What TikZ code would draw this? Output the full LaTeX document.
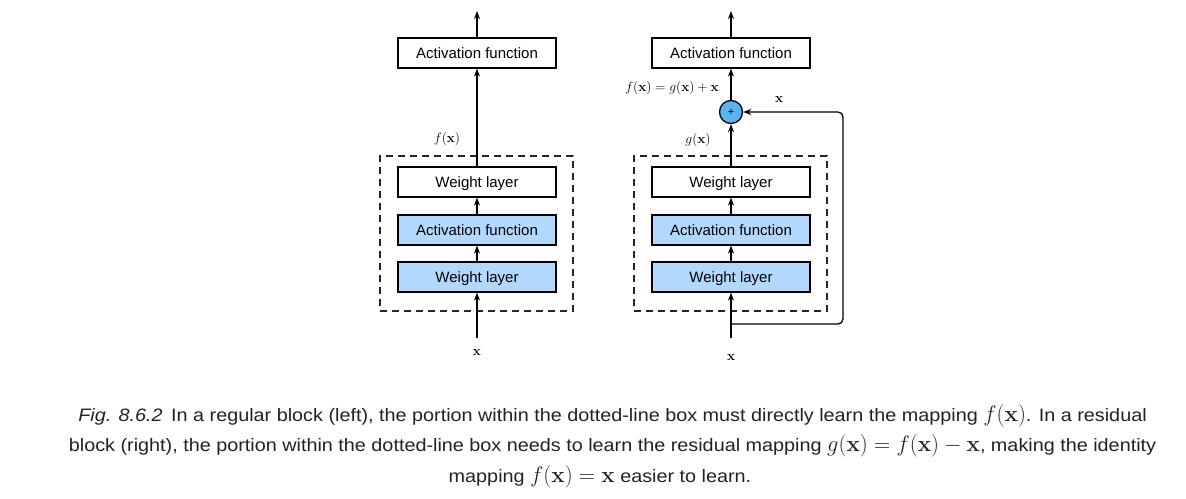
\RequirePackage{fix-cm}
\documentclass[tikz,border=0pt]{standalone}
\usepackage[no-math]{fontspec}
\setmainfont{Liberation Sans}
\newfontfamily\capfont[FakeStretch=1.10]{Liberation Sans}
\newcommand{\cm}[1]{{\fontsize{22.5}{24}\selectfont$#1$}}
\usetikzlibrary{arrows.meta}
\definecolor{boxblue}{RGB}{179,216,255}
\definecolor{plusblue}{RGB}{90,180,245}
\definecolor{captxt}{RGB}{34,34,34}
\begin{document}
\begin{tikzpicture}[x=1pt,y=-1pt,
  blk/.style={draw, line width=1.2pt, minimum width=158pt, minimum height=30pt, inner sep=0pt, text height=10.7pt, text depth=0pt, font=\fontsize{15}{18}\selectfont},
  bluebox/.style={blk, fill=boxblue},
  arr/.style={line width=1.3pt, -{Stealth[length=8pt,width=6pt]}},
  dbox/.style={draw=black!85, line width=1.3pt, dash pattern=on 7pt off 5pt, minimum width=193pt, minimum height=155pt, inner sep=0pt},
  lbl/.style={inner sep=0pt, font=\fontsize{13.5}{15}\selectfont},
  captext/.style={inner sep=0pt, anchor=base, text=captxt, font=\capfont\fontsize{18}{21}\selectfont}
]
\useasboundingbox (0,0) rectangle (1186,498);
% left block
\node[dbox] (ldash) at (476.5,233.5) {};
\node[blk] (la) at (477,53) {Activation function};
\node[blk] (lw2) at (477,182) {Weight layer};
\node[bluebox] (lf) at (477,230) {Activation function};
\node[bluebox] (lw1) at (477,277) {Weight layer};
\coordinate (lin) at (477,338);
\coordinate (lout) at (477,11);
\node[lbl] (lx) at (477,352) {$\mathbf{x}$};
\node[lbl] (lfx) at (447,139) {$f(\mathbf{x})$};
\draw[arr] (lin) -- (lw1.south);
\draw[arr] (lw1.north) -- (lf.south);
\draw[arr] (lf.north) -- (lw2.south);
\draw[arr] (lw2.north) -- (la.south);
\draw[arr] (la.north) -- (lout);
% right block
\node[dbox] (rdash) at (730.5,233.5) {};
\node[blk] (ra) at (731,53) {Activation function};
\node[circle, draw, fill=plusblue, minimum size=23pt, inner sep=0pt, line width=1.3pt, font=\fontsize{11}{12}\selectfont] (plus) at (731,112) {+};
\node[blk] (rw2) at (731,182) {Weight layer};
\node[bluebox] (rf) at (731,230) {Activation function};
\node[bluebox] (rw1) at (731,277) {Weight layer};
\coordinate (rin) at (731,338);
\coordinate (rsplit) at (731,324);
\coordinate (rcorner) at (843,112);
\coordinate (rout) at (731,11);
\node[lbl] (rx) at (731,357) {$\mathbf{x}$};
\node[lbl] (rgx) at (698,140) {$g(\mathbf{x})$};
\node[lbl] (rfx) at (672,88) {$f(\mathbf{x}) = g(\mathbf{x}) + \mathbf{x}$};
\node[lbl] (rsx) at (779,99) {$\mathbf{x}$};
\draw[arr] (rin) -- (rw1.south);
\draw[arr] (rw1.north) -- (rf.south);
\draw[arr] (rf.north) -- (rw2.south);
\draw[arr] (rw2.north) -- (plus.south);
\draw[arr] (plus.north) -- (ra.south);
\draw[arr] (ra.north) -- (rout);
\draw[arr, rounded corners=5pt] (rsplit) -| (rcorner) -- (plus.east);
% caption
\node[captext] (c1) at (612.5,421) {\textit{Fig. 8.6.2}\, In a regular block (left), the portion within the dotted-line box must directly learn the mapping \cm{f(\mathbf{x})}. In a residual};
\node[captext] (c2) at (612.5,451) {block (right), the portion within the dotted-line box needs to learn the residual mapping \cm{g(\mathbf{x}) = f(\mathbf{x}) - \mathbf{x}}, making the identity};
\node[captext] (c3) at (600,482) {mapping \cm{f(\mathbf{x}) = \mathbf{x}} easier to learn.};
\end{tikzpicture}
\end{document}
